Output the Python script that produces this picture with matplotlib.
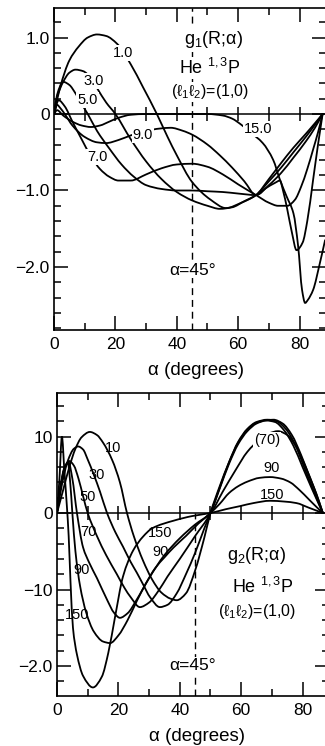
import numpy as np
import matplotlib
matplotlib.use("Agg")
import matplotlib.pyplot as plt
from matplotlib.path import Path
from matplotlib.patches import PathPatch
from matplotlib.ticker import MultipleLocator, FixedLocator, FixedFormatter

plt.rcParams['font.family'] = ['Liberation Sans', 'DejaVu Sans']
plt.rcParams['mathtext.fontset'] = 'custom'
plt.rcParams['mathtext.rm'] = 'Liberation Sans'
plt.rcParams['mathtext.it'] = 'Liberation Sans'
plt.rcParams['mathtext.bf'] = 'Liberation Sans'

# ---------------- g1(R; alpha) ----------------
A1_R1 = [0, 2, 5, 8, 11, 14, 17, 20.5, 25, 29, 33.5, 37, 40, 45, 51, 56, 61, 65.8, 70, 74, 78, 82, 85, 87.5]
G1_R1 = [0, 0.35, 0.7, 0.88, 1.0, 1.04, 1.02, 0.92, 0.65, 0.35, 0, -0.3, -0.54, -0.89, -1.12, -1.23, -1.16, -1.06, -0.85, -0.64, -0.44, -0.26, -0.12, 0]

A1_R3 = [0, 1, 3, 5, 7, 9.5, 12, 14, 17, 20, 25, 30, 35, 40, 45, 50, 54, 58, 62, 65.8, 70, 74, 78, 82, 85, 87.5]
G1_R3 = [0, 0.22, 0.42, 0.54, 0.58, 0.56, 0.47, 0.34, 0.15, 0, -0.33, -0.62, -0.85, -1.02, -1.13, -1.2, -1.24, -1.22, -1.14, -1.06, -0.88, -0.7, -0.5, -0.3, -0.14, 0]

A1_R5 = [0, 1, 3, 5, 7, 9, 11, 14, 18, 22, 26, 30, 35, 40, 45, 50, 55, 60, 65.8, 70, 74, 78, 82, 85, 87.5]
G1_R5 = [0, 0.25, 0.42, 0.38, 0.27, 0.13, 0, -0.22, -0.45, -0.66, -0.82, -0.93, -0.98, -1.0, -1.0, -1.01, -1.02, -1.04, -1.06, -0.93, -0.77, -0.57, -0.36, -0.18, 0]

A1_R7 = [0, 1.5, 3.5, 6, 9, 12, 15, 18, 21, 25, 30, 35, 40, 45, 50, 55, 60, 65.8, 70, 73, 76, 78.5, 80.5, 82.5, 84.5, 86, 87.5]
G1_R7 = [0, 0.18, 0.1, -0.1, -0.33, -0.55, -0.72, -0.82, -0.87, -0.87, -0.79, -0.71, -0.66, -0.65, -0.69, -0.79, -0.92, -1.06, -1.16, -1.2, -1.2, -1.12, -0.95, -0.72, -0.45, -0.24, 0]

A1_R9 = [0, 1, 2, 3.5, 6, 10, 14, 17, 21, 25, 30, 34.5, 38, 42, 45, 50, 54, 58, 62, 65.8, 69, 72, 73.6, 74.6, 76, 77.5, 79, 81, 82.5, 84.4, 86, 87.5]
G1_R9 = [0, 0.12, 0.08, 0, -0.15, -0.3, -0.37, -0.38, -0.34, -0.28, -0.22, -0.19, -0.18, -0.22, -0.27, -0.4, -0.54, -0.7, -0.88, -1.06, -0.97, -0.9, -0.87, -1.0, -1.25, -1.55, -1.78, -1.68, -1.4, -0.86, -0.4, 0]

A1_R15 = [0, 1, 3, 6, 9, 12, 15, 18, 21, 25, 30, 40, 50, 55, 58, 61, 64, 68, 71.4, 73.6, 75.8, 78, 79.5, 80.8, 81.8, 82.7, 84.4, 86.6, 88.3]
G1_R15 = [0, 0.05, -0.02, -0.1, -0.15, -0.17, -0.15, -0.1, -0.05, -0.01, 0, 0, 0, -0.02, -0.06, -0.14, -0.24, -0.38, -0.6, -0.86, -1.08, -1.3, -1.72, -2.3, -2.47, -2.43, -2.3, -1.95, -1.65]

G1_CURVE_LABELS = ["1.0", "3.0", "5.0", "7.0", "9.0", "15.0"]

# ---------------- g2(R; alpha) ----------------
A2_R1 = [0, 2, 4, 6, 8, 10.7, 13, 15, 18, 20.5, 22.8, 25, 28, 31, 34, 37, 39, 42, 45, 48, 50, 53, 56, 59, 62, 65, 68, 71, 74, 77, 80, 83, 86.6]
G2_R1 = [0, 0.3, 0.6, 0.84, 0.99, 1.06, 1.02, 0.92, 0.69, 0.4, 0, -0.3, -0.62, -0.87, -1.04, -1.12, -1.14, -1.05, -0.75, -0.32, 0, 0.35, 0.66, 0.92, 1.09, 1.18, 1.21, 1.19, 1.08, 0.88, 0.6, 0.32, 0]

A2_R3 = [0, 1.5, 3.5, 5.5, 6.9, 8.5, 10, 12, 14, 16.3, 19, 21.5, 24, 26, 28, 30.3, 33.5, 36, 39, 42, 45, 48, 50, 53, 56, 59, 62, 65, 68.5, 71.5, 74.5, 77.5, 80.5, 83.5, 86.6]
G2_R3 = [0, 0.35, 0.68, 0.84, 0.87, 0.83, 0.7, 0.5, 0.28, 0, -0.25, -0.44, -0.64, -0.78, -0.93, -1.1, -1.23, -1.2, -1.05, -0.8, -0.52, -0.2, 0, 0.33, 0.66, 0.93, 1.1, 1.19, 1.22, 1.2, 1.1, 0.9, 0.6, 0.3, 0]

A2_R5 = [0, 1, 2.5, 4, 5.5, 7, 8.5, 10, 13, 16, 19.5, 22, 24, 27, 30, 33, 36, 40, 45, 50, 53, 56, 59, 62, 65, 68, 70.5, 73.5, 76.5, 79.5, 82.5, 84.5, 86.6]
G2_R5 = [0, 0.3, 0.58, 0.68, 0.62, 0.45, 0.22, 0, -0.3, -0.55, -0.8, -0.98, -1.1, -1.23, -1.17, -1.02, -0.83, -0.6, -0.3, 0, 0.32, 0.64, 0.9, 1.07, 1.17, 1.21, 1.22, 1.17, 1.02, 0.76, 0.45, 0.25, 0]

A2_R7 = [0, 1, 2.5, 3.8, 5, 6.5, 8.5, 10.5, 13, 16.5, 18.5, 20.5, 23, 26, 30, 35, 40, 45, 50, 54, 58, 62, 66, 69, 72, 75, 78, 81, 84, 86.6]
G2_R7 = [0, 0.32, 0.6, 0.66, 0.45, 0, -0.45, -0.65, -0.85, -1.15, -1.3, -1.37, -1.31, -1.13, -0.85, -0.55, -0.33, -0.15, 0, 0.28, 0.55, 0.8, 0.96, 1.04, 1.07, 1.02, 0.86, 0.6, 0.3, 0]

A2_R9 = [0, 1, 2.5, 3.5, 4.3, 5, 6, 7.5, 9.5, 12, 15, 17.3, 20, 23, 26, 29, 32, 35, 38, 42, 46, 50, 53, 56, 59, 62, 66, 69.4, 73, 76, 79, 82, 84.5, 86.6]
G2_R9 = [0, 0.3, 0.6, 0.66, 0.4, 0, -0.5, -0.95, -1.3, -1.55, -1.68, -1.7, -1.6, -1.4, -1.15, -0.92, -0.72, -0.58, -0.45, -0.3, -0.14, 0, 0.12, 0.26, 0.35, 0.41, 0.46, 0.47, 0.45, 0.4, 0.3, 0.18, 0.08, 0]

A2_R15 = [0, 0.8, 1.6, 2.4, 3.2, 3.8, 4.4, 5.2, 6.5, 8.5, 11.7, 14.6, 16.7, 18.9, 21.5, 24.8, 28, 31, 38, 44, 50, 55, 59.6, 64, 69.4, 74, 78, 82, 86.6]
G2_R15 = [0, 0.45, 1.0, 0.55, 0.1, -0.3, -0.9, -1.5, -1.85, -2.13, -2.28, -2.14, -1.83, -1.36, -0.83, -0.49, -0.31, -0.2, -0.1, -0.04, 0, 0.05, 0.09, 0.13, 0.16, 0.15, 0.13, 0.07, 0]

G2_CURVE_LABELS = ["10", "30", "50", "70", "90", "150", "150", "90", "(70)", "90", "150"]

X_MAJOR = [0, 20, 40, 60, 80]
X_MINOR = [10, 30, 50, 70]
ZERO_LINE_TICKS = [10, 20, 30, 40, 50, 60, 70, 80]
ALPHA_MARK = 45
G1_YTICKS = [-2.0, -1.0, 0.0, 1.0]
G1_YTICK_TEXT = ["\u22122.0", "\u22121.0", "0", "1.0"]
G2_YTICKS = [-2.0, -1.0, 0.0, 1.0]
G2_YTICK_TEXT = ["\u22122.0", "\u221210", "0", "10"]


def draw_curve(ax, a, g, lw=1.3):
    """Smooth monotone cubic (PCHIP-style) Bezier path through the points."""
    a = np.asarray(a, float)
    g = np.asarray(g, float)
    n = len(a)
    h = np.diff(a)
    d = np.diff(g) / h
    m = np.zeros(n)
    m[0], m[-1] = d[0], d[-1]
    for i in range(1, n - 1):
        if d[i - 1] * d[i] > 0:
            w1 = 2 * h[i] + h[i - 1]
            w2 = h[i] + 2 * h[i - 1]
            m[i] = (w1 + w2) / (w1 / d[i - 1] + w2 / d[i])
    verts = [(a[0], g[0])]
    codes = [Path.MOVETO]
    for i in range(n - 1):
        verts += [(a[i] + h[i] / 3, g[i] + m[i] * h[i] / 3),
                  (a[i + 1] - h[i] / 3, g[i + 1] - m[i + 1] * h[i] / 3),
                  (a[i + 1], g[i + 1])]
        codes += [Path.CURVE4] * 3
    ax.add_patch(PathPatch(Path(verts, codes), fill=False, lw=lw,
                           edgecolor='black', capstyle='round', zorder=3))


def style_axes(ax, yticks, ytext, ylim):
    ax.set_xlim(0, 88.6)
    ax.set_ylim(*ylim)
    ax.xaxis.set_major_locator(FixedLocator(X_MAJOR))
    ax.xaxis.set_minor_locator(FixedLocator(X_MINOR))
    ax.set_xticklabels([str(v) for v in X_MAJOR])
    ax.yaxis.set_major_locator(FixedLocator(yticks))
    ax.yaxis.set_major_formatter(FixedFormatter(ytext))
    ax.yaxis.set_minor_locator(MultipleLocator(0.2))
    ax.tick_params(which='both', direction='in', top=True, right=True,
                   width=1.1, colors='black')
    ax.tick_params(which='major', length=10, labelsize=12.5)
    ax.tick_params(which='minor', length=5)
    ax.tick_params(axis='x', which='major', pad=5)
    ax.tick_params(axis='y', which='major', pad=3)
    for s in ax.spines.values():
        s.set_linewidth(1.2)
    # zero axis with crossing ticks
    ax.axhline(0, color='black', lw=1.1, zorder=2)
    ax.plot(ZERO_LINE_TICKS, np.zeros(len(ZERO_LINE_TICKS)), ls='none',
            marker='|', ms=10, mew=1.1, color='black', zorder=2)
    ax.set_xlabel("\u03b1 (degrees)", fontsize=13.5)


fig = plt.figure(figsize=(3.25, 7.46), dpi=100)
W, H = 325.0, 746.0

# ---- upper panel ----
ax1 = fig.add_axes([54 / W, 1 - 330 / H, 272 / W, 322 / H])
style_axes(ax1, G1_YTICKS, G1_YTICK_TEXT, (-2.824, 1.386))
ax1.xaxis.set_label_coords(0.522, -0.098)
ax1.axvline(ALPHA_MARK, color='black', lw=1.0, dashes=(5, 3.5), zorder=1)
for a, g in [(A1_R1, G1_R1), (A1_R3, G1_R3), (A1_R5, G1_R5),
             (A1_R7, G1_R7), (A1_R9, G1_R9), (A1_R15, G1_R15)]:
    draw_curve(ax1, a, g)

box = dict(facecolor='white', edgecolor='none', pad=0.6)
g1_label_pos = [(22.5, 0.80), (12.9, 0.43), (10.9, 0.18), (14.0, -0.56),
                (29.0, -0.27), (66.4, -0.20)]
for txt, (x, y) in zip(G1_CURVE_LABELS, g1_label_pos):
    ax1.text(x, y, txt, fontsize=10.5, ha='center', va='center',
             bbox=box, zorder=5)
ax1.text(51.8, 0.97, "g$_1$(R;\u03b1)", fontsize=13, ha='center', va='center',
         bbox=box, zorder=5)
ax1.text(50.8, 0.60, "He $^{1,3}$P", fontsize=13, ha='center', va='center',
         bbox=box, zorder=5)
ax1.text(50.8, 0.29, "(\u2113$_1$\u2113$_2$)=(1,0)", fontsize=11.5,
         ha='center', va='center', bbox=box, zorder=5)
ax1.text(45.0, -2.04, "\u03b1=45\u00b0", fontsize=12.5, ha='center',
         va='center', bbox=box, zorder=5)

# ---- lower panel ----
ax2 = fig.add_axes([57 / W, 1 - 696 / H, 272 / W, 303 / H])
style_axes(ax2, G2_YTICKS, G2_YTICK_TEXT, (-2.392, 1.569))
ax2.xaxis.set_label_coords(0.515, -0.104)
lo, hi = ax2.get_ylim()
ax2.axvline(ALPHA_MARK, ymin=0, ymax=(0 - lo) / (hi - lo), color='black',
            lw=1.0, dashes=(5, 3.5), zorder=1)
for a, g in [(A2_R1, G2_R1), (A2_R3, G2_R3), (A2_R5, G2_R5),
             (A2_R7, G2_R7), (A2_R9, G2_R9), (A2_R15, G2_R15)]:
    draw_curve(ax2, a, g)

g2_label_pos = [(18.2, 0.85), (13.0, 0.50), (10.1, 0.21), (10.1, -0.25),
                (8.1, -0.75), (6.5, -1.33), (33.6, -0.26), (33.6, -0.51),
                (68.4, 0.95), (70.0, 0.59), (70.0, 0.24)]
for txt, (x, y) in zip(G2_CURVE_LABELS, g2_label_pos):
    kw = dict(bbox=box) if txt == "(70)" else {}
    ax2.text(x, y, txt, fontsize=10.5, ha='center', va='center', zorder=5, **kw)
ax2.text(65.1, -0.55, "g$_2$(R;\u03b1)", fontsize=13, ha='center', va='center',
         bbox=box, zorder=5)
ax2.text(67.1, -0.97, "He $^{1,3}$P", fontsize=13, ha='center', va='center',
         bbox=box, zorder=5)
ax2.text(65.1, -1.29, "(\u2113$_1$\u2113$_2$)=(1,0)", fontsize=11.5,
         ha='center', va='center', bbox=box, zorder=5)
ax2.text(44.3, -1.99, "\u03b1=45\u00b0", fontsize=12.5, ha='center',
         va='center', bbox=box, zorder=5)

fig.savefig("out.png", dpi=100, facecolor='white')
